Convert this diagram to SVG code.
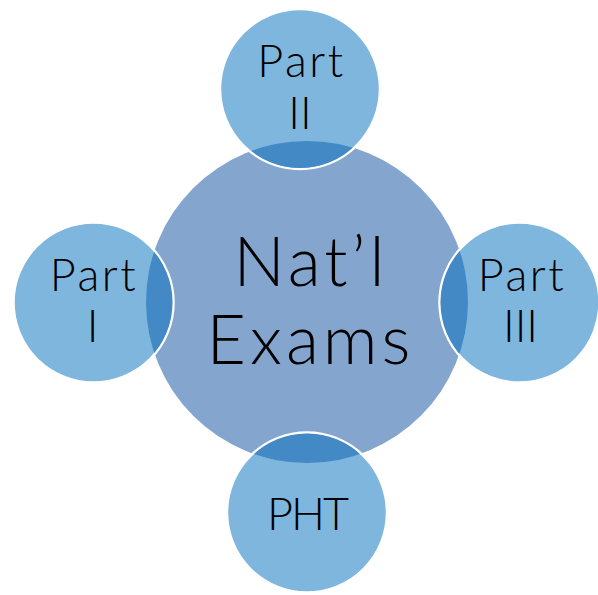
<svg xmlns="http://www.w3.org/2000/svg" width="598" height="595" viewBox="0 0 598 595">
<style>
.hub{fill:#84A5CE;}
.sat{fill:#7FB6DE;stroke:#FFFFFF;stroke-width:2.5;}
.ov{fill:#4389C5;}
text{font-family:"Lato","Open Sans","Liberation Sans",sans-serif;font-weight:300;fill:#000000;text-anchor:middle;}
.big{font-size:68px;letter-spacing:4px;}
.sm{font-size:45px;}
.wide{letter-spacing:2.5px;}
.tight{letter-spacing:-2px;}
</style>
<defs>
<clipPath id="cT"><circle cx="300" cy="89" r="79"/></clipPath>
<clipPath id="cL"><circle cx="93.5" cy="302.5" r="79"/></clipPath>
<clipPath id="cR"><circle cx="519.5" cy="302.5" r="79"/></clipPath>
<clipPath id="cB"><circle cx="307" cy="512.5" r="79"/></clipPath>
</defs>
<rect width="598" height="595" fill="#FFFFFF"/>
<g id="hub">
<circle class="hub" cx="307" cy="302" r="161"/>
<text class="big" x="311" y="286">Nat’l</text>
<text class="big" x="310.5" y="364">Exams</text>
</g>
<g id="connectors"></g>
<g id="part2">
<circle class="sat" cx="300" cy="89" r="80"/>
<circle class="ov" cx="307" cy="302" r="161" clip-path="url(#cT)"/>
<text class="sm wide" x="301.5" y="77">Part</text>
<text class="sm" x="300" y="129">II</text>
</g>
<g id="part1">
<circle class="sat" cx="93.5" cy="302.5" r="80"/>
<circle class="ov" cx="307" cy="302" r="161" clip-path="url(#cL)"/>
<text class="sm wide" x="94" y="291">Part</text>
<text class="sm" x="92.5" y="342">I</text>
</g>
<g id="part3">
<circle class="sat" cx="519.5" cy="302.5" r="80"/>
<circle class="ov" cx="307" cy="302" r="161" clip-path="url(#cR)"/>
<text class="sm wide" x="522" y="291">Part</text>
<text class="sm" x="520.5" y="342">III</text>
</g>
<g id="pht">
<circle class="sat" cx="307" cy="512.5" r="80"/>
<circle class="ov" cx="307" cy="302" r="161" clip-path="url(#cB)"/>
<text class="sm tight" x="307" y="530">PHT</text>
</g>
</svg>
